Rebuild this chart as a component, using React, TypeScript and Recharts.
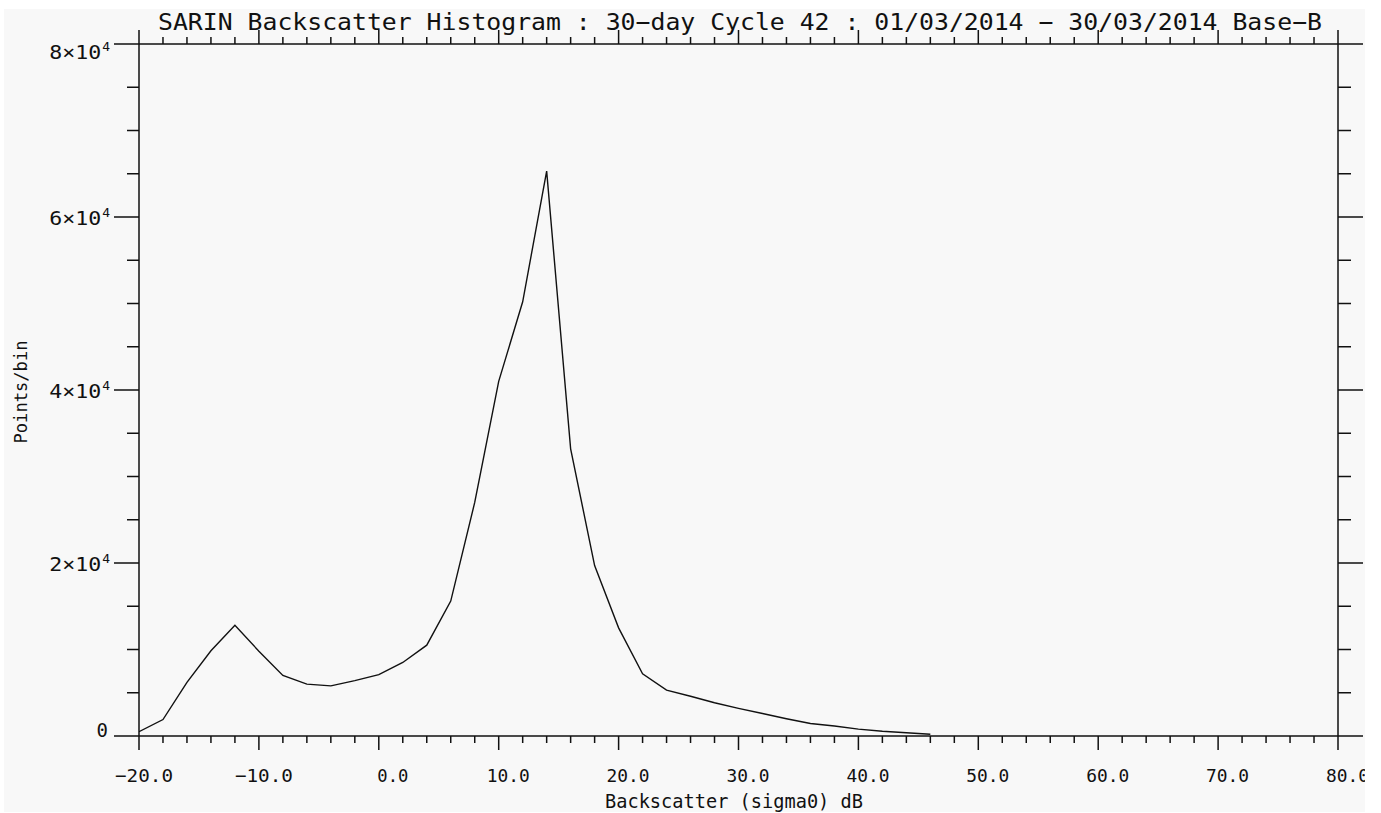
import { LineChart, Line, XAxis, YAxis } from "recharts";

// backscatter bins (dB) and points per bin
const BINS = [
  -20, -18, -16, -14, -12, -10, -8, -6, -4, -2, 0, 2, 4, 6, 8, 10, 12, 14, 16, 18, 20, 22, 24, 26, 28, 30,
  32, 34, 36, 38, 40, 42, 44, 46,
];
const COUNTS = [
  500, 1900, 6200, 9850, 12800, 9800, 7000, 6000, 5800, 6400, 7100, 8500, 10500, 15600, 27000, 41000,
  50200, 65300, 33200, 19700, 12500, 7200, 5300, 4600, 3850, 3200, 2600, 2000, 1450, 1150, 800, 550, 380,
  200,
];

const X_TICKS = [
  -20, -18, -16, -14, -12, -10, -8, -6, -4, -2, 0, 2, 4, 6, 8, 10, 12, 14, 16, 18, 20, 22, 24, 26, 28, 30,
  32, 34, 36, 38, 40, 42, 44, 46, 48, 50, 52, 54, 56, 58, 60, 62, 64, 66, 68, 70, 72, 74, 76, 78, 80,
];
const Y_TICKS = [
  0, 5000, 10000, 15000, 20000, 25000, 30000, 35000, 40000, 45000, 50000, 55000, 60000, 65000, 70000,
  75000, 80000,
];

const TITLE =
  "SARIN Backscatter Histogram : 30\u2212day Cycle 42 : 01/03/2014 \u2212 30/03/2014 Base\u2212B";
const X_TITLE = "Backscatter (sigma0) dB";
const Y_TITLE = "Points/bin";

const FONT = "'DejaVu Sans Mono', monospace";
const INK = "#111";

const data = BINS.map((x, i) => ({ x, count: COUNTS[i] }));

function BottomTick(props: any) {
  const { x, y, payload } = props;
  const v = payload.value as number;
  const major = v % 10 === 0;
  const label = v.toFixed(1).replace("-", "\u2212");
  // IDL's label centring is a little off to the right of the tick
  const dx = v < 0 ? 5 : v === 0 ? 14 : 9.5;
  const len = label.length === 5 ? 58 : label.length === 4 ? 43 : 31;
  return (
    <g>
      <line x1={x} x2={x} y1={y} y2={y + (major ? 14 : 7)} stroke={INK} strokeWidth={1.5} />
      {major && (
        <text
          x={x + dx}
          y={y + 46}
          textAnchor="middle"
          fontFamily={FONT}
          fontSize={18}
          fill={INK}
          textLength={len}
          lengthAdjust="spacingAndGlyphs"
        >
          {label}
        </text>
      )}
    </g>
  );
}

function TopTick(props: any) {
  const { x, y, payload } = props;
  const major = (payload.value as number) % 10 === 0;
  return <line x1={x} x2={x} y1={y} y2={y - (major ? 14 : 7)} stroke={INK} strokeWidth={1.5} />;
}

function LeftTick(props: any) {
  const { x, y, payload } = props;
  const v = payload.value as number;
  const major = v % 20000 === 0;
  // IDL nudges the end labels away from the frame corners
  const dy = v === 0 ? 1 : v === 80000 ? 15 : 8;
  return (
    <g>
      <line x1={x} x2={x - (major ? 25 : 12)} y1={y} y2={y} stroke={INK} strokeWidth={1.5} />
      {major &&
        (v === 0 ? (
          <text x={x - 31} y={y + dy} textAnchor="end" fontFamily={FONT} fontSize={19} fill={INK}>
            0
          </text>
        ) : (
          <text x={x - 29} y={y + dy} textAnchor="end" fontFamily={FONT} fontSize={19} fill={INK}>
            <tspan textLength={52} lengthAdjust="spacingAndGlyphs">{`${v / 10000}\u00d710`}</tspan>
            <tspan fontSize={13} dx={1} dy={-8}>
              4
            </tspan>
          </text>
        ))}
    </g>
  );
}

function RightTick(props: any) {
  const { x, y, payload } = props;
  const major = (payload.value as number) % 20000 === 0;
  return <line x1={x} x2={x + (major ? 25 : 13)} y1={y} y2={y} stroke={INK} strokeWidth={1.5} />;
}

export default function App() {
  return (
    <div style={{ position: "absolute", left: 0, top: 0, width: 1381, height: 813, background: "#fff" }}>
      <div
        style={{ position: "absolute", left: 4, top: 9, width: 1361, height: 803, background: "#f8f8f8" }}
      />
      <div style={{ position: "absolute", left: 0, top: 0 }}>
        <LineChart width={1381} height={813} data={data} margin={{ top: 14, right: 13, bottom: 37, left: 79 }}>
          <XAxis
            xAxisId="bottom"
            dataKey="x"
            type="number"
            domain={[-20, 80]}
            ticks={X_TICKS}
            interval={0}
            height={40}
            tickSize={0}
            tickMargin={0}
            tickLine={false}
            tick={<BottomTick />}
            axisLine={{ stroke: INK, strokeWidth: 1.5 }}
            allowDataOverflow
          />
          <XAxis
            xAxisId="top"
            orientation="top"
            dataKey="x"
            type="number"
            domain={[-20, 80]}
            ticks={X_TICKS}
            interval={0}
            height={30}
            tickSize={0}
            tickMargin={0}
            tickLine={false}
            tick={<TopTick />}
            axisLine={{ stroke: INK, strokeWidth: 1.5 }}
            allowDataOverflow
          />
          <YAxis
            yAxisId="left"
            type="number"
            domain={[0, 80000]}
            ticks={Y_TICKS}
            interval={0}
            width={60}
            tickSize={0}
            tickMargin={0}
            tickLine={false}
            tick={<LeftTick />}
            axisLine={{ stroke: INK, strokeWidth: 1.5 }}
            allowDataOverflow
          />
          <YAxis
            yAxisId="right"
            orientation="right"
            type="number"
            domain={[0, 80000]}
            ticks={Y_TICKS}
            interval={0}
            width={30}
            tickSize={0}
            tickMargin={0}
            tickLine={false}
            tick={<RightTick />}
            axisLine={{ stroke: INK, strokeWidth: 1.5 }}
            allowDataOverflow
          />
          <Line
            xAxisId="bottom"
            yAxisId="left"
            dataKey="count"
            type="linear"
            stroke={INK}
            strokeWidth={1.4}
            dot={false}
            activeDot={false}
            isAnimationActive={false}
          />
          <text
            x={740}
            y={30}
            textAnchor="middle"
            fontFamily={FONT}
            fontSize={23}
            fill={INK}
            textLength={1164}
            lengthAdjust="spacingAndGlyphs"
          >
            {TITLE}
          </text>
          <text
            x={734}
            y={808}
            textAnchor="middle"
            fontFamily={FONT}
            fontSize={19}
            fill={INK}
            textLength={258}
            lengthAdjust="spacingAndGlyphs"
          >
            {X_TITLE}
          </text>
          <text
            x={27}
            y={392}
            transform="rotate(-90 27 392)"
            textAnchor="middle"
            fontFamily={FONT}
            fontSize={18}
            fill={INK}
            textLength={103}
            lengthAdjust="spacingAndGlyphs"
          >
            {Y_TITLE}
          </text>
        </LineChart>
      </div>
      {/* the original graphic is cropped at its right edge */}
      <div style={{ position: "absolute", left: 1365, top: 0, width: 16, height: 813, background: "#fff" }} />
    </div>
  );
}
